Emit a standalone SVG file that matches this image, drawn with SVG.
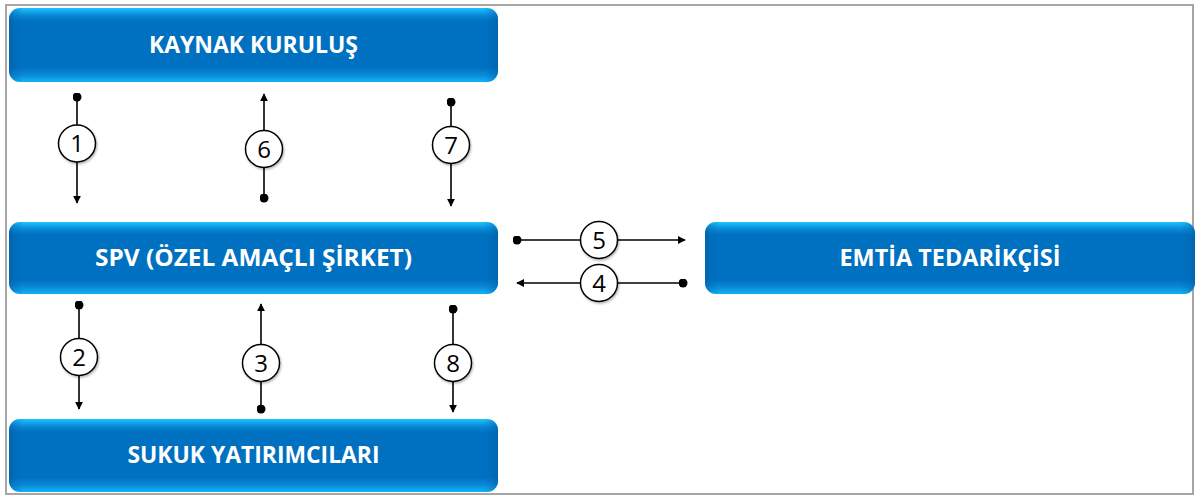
<svg xmlns="http://www.w3.org/2000/svg" width="1198" height="495" viewBox="0 0 1198 495">
<style>
.node{fill:url(#g)}
.edge{fill:url(#gh);opacity:0.5}
.lbl{font-family:"Open Sans","Liberation Sans",sans-serif;font-weight:bold;font-size:23px;fill:#fff;text-anchor:middle}
.ln{stroke:#000;stroke-width:1.6;fill:none}
.num{fill:#fff;stroke:#000;stroke-width:1.5}
.nt{font-family:"Open Sans","Liberation Sans",sans-serif;font-size:24px;fill:#000;text-anchor:middle}
</style>
<defs>
<linearGradient id="g" x1="0" y1="0" x2="0" y2="1">
<stop offset="0" stop-color="#1cc4ff"/>
<stop offset="0.1" stop-color="#0a88d6"/>
<stop offset="0.18" stop-color="#0070c0"/>
<stop offset="0.8" stop-color="#0070c0"/>
<stop offset="0.9" stop-color="#0a88d6"/>
<stop offset="1" stop-color="#10b4f4"/>
</linearGradient>
<linearGradient id="gh" x1="0" y1="0" x2="1" y2="0">
<stop offset="0" stop-color="#005a9e"/>
<stop offset="0.03" stop-color="#0070c0" stop-opacity="0"/>
<stop offset="0.97" stop-color="#0070c0" stop-opacity="0"/>
<stop offset="1" stop-color="#005a9e"/>
</linearGradient>
<marker id="ah" viewBox="0 0 10 10" refX="9" refY="5" markerWidth="8" markerHeight="8" markerUnits="userSpaceOnUse" orient="auto">
<path d="M0,0 L10,5 L0,10 z" fill="#000"/>
</marker>
<marker id="dot" viewBox="0 0 10 10" refX="5" refY="5" markerWidth="9" markerHeight="9" markerUnits="userSpaceOnUse">
<circle cx="5" cy="5" r="5" fill="#000"/>
</marker>
<filter id="sh" x="-20%" y="-20%" width="140%" height="140%">
<feDropShadow dx="1" dy="1.5" stdDeviation="1.2" flood-color="#000" flood-opacity="0.3"/>
</filter>
</defs>
<rect x="6" y="5" width="1187" height="489" fill="#fff" stroke="#a6a6a6" stroke-width="2"/>

<g id="kaynak">
<rect class="node" x="9" y="8" width="489" height="74" rx="11"/>
<rect class="edge" x="9" y="8" width="489" height="74" rx="11"/>
<text class="lbl" x="253.5" y="53" textLength="209" lengthAdjust="spacingAndGlyphs">KAYNAK KURULUŞ</text>
</g>
<g id="spv">
<rect class="node" x="9" y="222" width="489" height="72" rx="11"/>
<rect class="edge" x="9" y="222" width="489" height="72" rx="11"/>
<text class="lbl" x="253.5" y="266" textLength="317" lengthAdjust="spacingAndGlyphs">SPV (ÖZEL AMAÇLI ŞİRKET)</text>
</g>
<g id="emtia">
<rect class="node" x="705" y="222" width="490" height="72" rx="11"/>
<rect class="edge" x="705" y="222" width="490" height="72" rx="11"/>
<text class="lbl" x="950" y="266" textLength="221" lengthAdjust="spacingAndGlyphs">EMTİA TEDARİKÇİSİ</text>
</g>
<g id="sukuk">
<rect class="node" x="9" y="419" width="489" height="73" rx="11"/>
<rect class="edge" x="9" y="419" width="489" height="73" rx="11"/>
<text class="lbl" x="253.5" y="463" textLength="252" lengthAdjust="spacingAndGlyphs">SUKUK YATIRIMCILARI</text>
</g>

<g id="connectors">
<line class="ln" x1="77" y1="97" x2="77" y2="203" marker-start="url(#dot)" marker-end="url(#ah)"/>
<line class="ln" x1="264" y1="198" x2="264" y2="94" marker-start="url(#dot)" marker-end="url(#ah)"/>
<line class="ln" x1="451" y1="102" x2="451" y2="206" marker-start="url(#dot)" marker-end="url(#ah)"/>
<line class="ln" x1="79" y1="305" x2="79" y2="409" marker-start="url(#dot)" marker-end="url(#ah)"/>
<line class="ln" x1="261" y1="409" x2="261" y2="304" marker-start="url(#dot)" marker-end="url(#ah)"/>
<line class="ln" x1="453" y1="309" x2="453" y2="412" marker-start="url(#dot)" marker-end="url(#ah)"/>
<line class="ln" x1="517" y1="240" x2="685" y2="240" marker-start="url(#dot)" marker-end="url(#ah)"/>
<line class="ln" x1="683" y1="283" x2="517" y2="283" marker-start="url(#dot)" marker-end="url(#ah)"/>
<g filter="url(#sh)">
<circle class="num" cx="77" cy="143.5" r="18.5"/>
<circle class="num" cx="264" cy="149" r="18.5"/>
<circle class="num" cx="451" cy="145" r="18.5"/>
<circle class="num" cx="79" cy="357" r="18.5"/>
<circle class="num" cx="261" cy="363" r="18.5"/>
<circle class="num" cx="453" cy="363" r="18.5"/>
<circle class="num" cx="599" cy="240" r="18.5"/>
<circle class="num" cx="599" cy="283" r="18.5"/>
</g>
<text class="nt" x="77" y="152">1</text>
<text class="nt" x="264" y="157.5">6</text>
<text class="nt" x="451" y="153.5">7</text>
<text class="nt" x="79" y="365.5">2</text>
<text class="nt" x="261" y="371.5">3</text>
<text class="nt" x="453" y="371.5">8</text>
<text class="nt" x="599" y="248.5">5</text>
<text class="nt" x="599" y="291.5">4</text>
</g>
</svg>
